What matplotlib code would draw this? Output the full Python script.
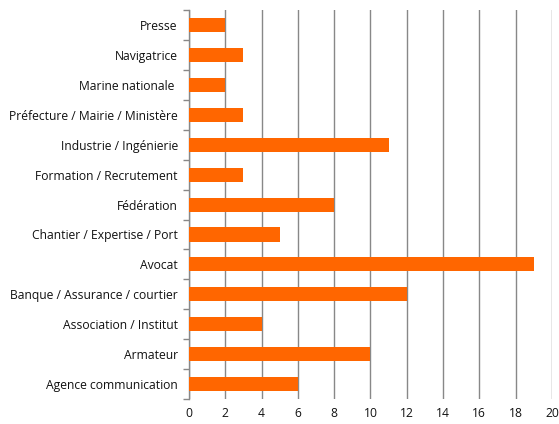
import matplotlib.pyplot as plt
import numpy as np

# --- DATOS ---
categories = ['Agence communication', 'Armateur', 'Association / Institut',
              'Banque / Assurance / courtier', 'Avocat', 'Chantier / Expertise / Port',
              'Fédération', 'Formation / Recrutement', 'Industrie / Ingénierie',
              'Préfecture / Mairie / Ministère', 'Marine nationale ', 'Navigatrice', 'Presse']
values = [6, 10, 4, 12, 19, 5, 8, 3, 11, 3, 2, 3, 2]
x_ticks = [0, 2, 4, 6, 8, 10, 12, 14, 16, 18, 20]
# -------------

plt.rcParams['font.family'] = ['Open Sans', 'DejaVu Sans']

fig = plt.figure(figsize=(5.59, 4.24), dpi=100)
ax = fig.add_axes([0.338, 0.059, 0.6495, 0.917])

y = np.arange(len(categories))
ax.barh(y, values, height=0.47, color='#FF6600', zorder=3)

ax.set_xlim(0, 20)
ax.set_ylim(-0.5, len(categories) - 0.5)
ax.set_xticks(x_ticks)
ax.set_xticklabels([str(t) for t in x_ticks], fontsize=8.7, color='#111111')
ax.set_yticks(y)
ax.set_yticklabels(categories, fontsize=8.7, color='#111111')
ax.set_yticks(np.arange(len(categories) + 1) - 0.5, minor=True)

ax.tick_params(axis='y', which='major', length=0, pad=8)
ax.tick_params(axis='y', which='minor', length=4, color='#888888', width=1)
ax.tick_params(axis='x', length=0, pad=6)

ax.grid(True, axis='x', color='#888888', linewidth=1, zorder=0)
for side in ['top', 'right', 'bottom']:
    ax.spines[side].set_visible(False)
ax.spines['left'].set_color('#888888')
ax.spines['left'].set_linewidth(1)

plt.savefig('out.png', dpi=100)
